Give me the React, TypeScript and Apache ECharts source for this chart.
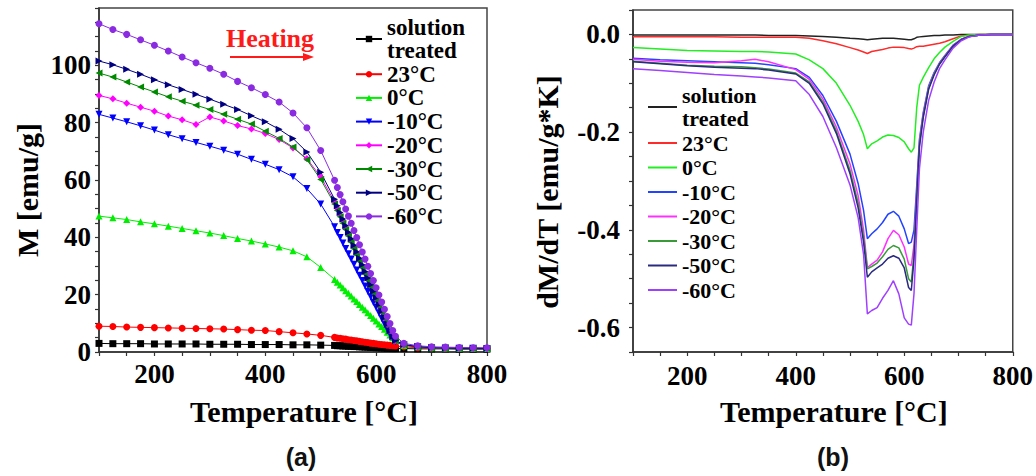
import React, { useEffect, useRef } from "react";
import * as echarts from "echarts";

// ---------- Panel (a): magnetisation vs temperature ----------
const tempsA = [
  100, 125, 150, 175, 200, 225, 250, 275, 300, 325, 350, 375, 400, 425, 450, 475, 500,
  525, 530, 535, 540, 545, 550, 555, 560, 565, 570, 575, 580, 585, 590, 595, 600, 605, 610, 615, 620, 625, 630, 635,
  650, 675, 700, 725, 750, 775, 800,
];
const mSolution = [
  3.0, 2.9, 2.9, 2.9, 2.8, 2.8, 2.8, 2.8, 2.7, 2.7, 2.7, 2.6, 2.6, 2.6, 2.5, 2.5, 2.4,
  2.3, 2.2, 2.2, 2.1, 2.1, 2.0, 2.0, 1.9, 1.9, 1.8, 1.8, 1.7, 1.7, 1.6, 1.6, 1.5, 1.5, 1.4, 1.4, 1.3, 1.3, 1.2, 1.2,
  1.2, 1.1, 1.1, 1.1, 1.0, 1.0, 1.0,
];
const m23 = [
  9.0, 8.9, 8.7, 8.6, 8.5, 8.4, 8.3, 8.2, 8.1, 8.0, 7.8, 7.6, 7.5, 7.1, 6.7, 6.3, 5.8,
  5.1, 4.9, 4.8, 4.6, 4.5, 4.3, 4.2, 4.0, 3.9, 3.7, 3.6, 3.4, 3.3, 3.1, 3.0, 2.9, 2.7, 2.6, 2.5, 2.4, 2.3, 2.2, 2.1,
  1.8, 1.5, 1.4, 1.3, 1.3, 1.2, 1.2,
];
const m0 = [
  47.4, 46.8, 46.2, 45.4, 44.7, 43.9, 43.1, 42.3, 41.5, 40.6, 39.6, 38.7, 37.7, 36.6, 35.3, 33.2, 29.5,
  25.3, 24.3, 23.4, 22.4, 21.4, 20.5, 19.5, 18.5, 17.6, 16.6, 15.6, 14.7, 13.7, 12.7, 11.8, 10.8, 9.8, 8.9, 7.9, 6.9, 5.9, 5.0, 4.2,
  2.3, 1.8, 1.5, 1.4, 1.3, 1.3, 1.2,
];
const m10 = [
  82.9, 81.6, 80.3, 78.9, 77.4, 75.8, 74.4, 73.1, 71.8, 70.4, 69.0, 67.2, 65.5, 63.6, 61.1, 57.0, 51.6,
  43.7, 41.7, 39.9, 38.0, 36.1, 34.3, 32.4, 30.6, 28.6, 26.8, 24.9, 23.0, 21.1, 19.3, 17.3, 15.5, 13.6, 11.7, 9.8, 7.9, 6.1, 4.6, 3.6,
  2.4, 1.8, 1.5, 1.4, 1.3, 1.3, 1.2,
];
const m20 = [
  89.5, 88.3, 86.8, 85.4, 84.0, 82.3, 81.0, 79.4, 82.0, 80.6, 79.0, 77.8, 76.2, 74.1, 71.2, 67.5, 61.1,
  52.4, 50.1, 47.9, 45.6, 43.3, 41.1, 38.8, 36.6, 34.4, 32.1, 29.8, 27.5, 25.3, 23.0, 20.8, 18.5, 16.2, 14.0, 11.7, 9.5, 7.2, 5.2, 3.9,
  2.5, 1.8, 1.5, 1.4, 1.3, 1.3, 1.2,
];
const m30 = [
  97.3, 95.9, 94.2, 92.4, 90.7, 89.0, 87.5, 86.1, 84.6, 82.9, 81.2, 79.5, 77.0, 74.5, 71.5, 67.1, 60.2,
  51.6, 49.4, 47.2, 44.9, 42.7, 40.5, 38.3, 36.0, 33.8, 31.6, 29.4, 27.2, 25.0, 22.7, 20.5, 18.3, 16.1, 13.9, 11.6, 9.4, 7.2, 5.2, 3.9,
  2.5, 1.8, 1.5, 1.4, 1.3, 1.3, 1.2,
];
const m50 = [
  101.5, 100.2, 98.6, 96.9, 95.0, 93.2, 91.6, 89.9, 88.2, 86.4, 84.6, 82.4, 80.3, 77.7, 74.5, 69.8, 62.7,
  53.3, 51.0, 48.7, 46.4, 44.1, 41.8, 39.5, 37.2, 35.0, 32.7, 30.4, 28.1, 25.8, 23.5, 21.2, 18.9, 16.6, 14.3, 12.0, 9.7, 7.4, 5.3, 4.0,
  2.6, 1.9, 1.5, 1.4, 1.3, 1.3, 1.2,
];
const m60 = [
  114.5, 112.5, 110.8, 108.9, 107.0, 105.0, 102.9, 100.9, 99.0, 96.9, 94.4, 92.2, 89.8, 87.2, 83.4, 78.2, 70.3,
  59.9, 57.4, 54.9, 52.4, 49.9, 47.4, 44.9, 42.4, 39.9, 37.4, 34.9, 32.4, 29.9, 27.4, 24.9, 22.4, 19.9, 17.4, 14.9, 12.4, 9.9, 7.5, 5.5,
  3.0, 2.2, 1.8, 1.7, 1.6, 1.5, 1.5,
];

// ---------- Panel (b): dM/dT vs temperature ----------
const tempsB = [
  100, 150, 200, 250, 300, 325, 350, 400, 425, 450, 475, 500, 515, 525, 532, 540, 550, 560, 570,
  580, 590, 600, 608, 613, 618, 623, 628, 635, 645, 655, 665, 675, 690, 705, 720, 740, 760, 800,
];
const dSolution = [
  -0.001, -0.001, -0.001, -0.001, -0.001, -0.001, -0.002, -0.002, -0.003, -0.004, -0.006, -0.008, -0.009, -0.01, -0.011, -0.01, -0.009, -0.008, -0.008,
  -0.008, -0.009, -0.01, -0.011, -0.011, -0.009, -0.006, -0.005, -0.004, -0.003, -0.002, -0.002, -0.001, -0.001, 0, 0, 0, 0, 0,
];
const d23 = [
  -0.005, -0.005, -0.005, -0.005, -0.006, -0.006, -0.006, -0.006, -0.008, -0.013, -0.019, -0.027, -0.032, -0.036, -0.039, -0.035, -0.033, -0.031, -0.028,
  -0.026, -0.026, -0.027, -0.029, -0.03, -0.028, -0.025, -0.024, -0.024, -0.022, -0.02, -0.018, -0.015, -0.009, -0.003, -0.001, 0, 0, 0,
];
const d0 = [
  -0.027, -0.03, -0.033, -0.034, -0.035, -0.035, -0.036, -0.04, -0.052, -0.07, -0.1, -0.145, -0.178, -0.205, -0.234, -0.224, -0.218, -0.21, -0.206,
  -0.207, -0.211, -0.22, -0.234, -0.241, -0.232, -0.15, -0.104, -0.088, -0.068, -0.05, -0.037, -0.026, -0.014, -0.004, -0.001, 0, 0, 0,
];
const d10 = [
  -0.049, -0.052, -0.054, -0.056, -0.058, -0.059, -0.062, -0.07, -0.088, -0.125, -0.178, -0.245, -0.305, -0.36, -0.418, -0.408, -0.398, -0.385, -0.368,
  -0.362, -0.372, -0.398, -0.428, -0.425, -0.4, -0.31, -0.215, -0.16, -0.105, -0.078, -0.058, -0.043, -0.022, -0.01, -0.004, -0.001, 0, 0,
];
const d20 = [
  -0.051, -0.055, -0.057, -0.058, -0.054, -0.051, -0.056, -0.072, -0.092, -0.132, -0.19, -0.265, -0.33, -0.4, -0.477, -0.47, -0.462, -0.445, -0.418,
  -0.401, -0.41, -0.435, -0.47, -0.473, -0.43, -0.325, -0.22, -0.163, -0.108, -0.08, -0.059, -0.044, -0.023, -0.01, -0.004, -0.001, 0, 0,
];
const d30 = [
  -0.055, -0.059, -0.063, -0.065, -0.066, -0.068, -0.071, -0.079, -0.097, -0.138, -0.198, -0.278, -0.345, -0.415, -0.48, -0.475, -0.468, -0.455, -0.44,
  -0.432, -0.437, -0.46, -0.5, -0.507, -0.45, -0.335, -0.225, -0.167, -0.11, -0.081, -0.06, -0.045, -0.024, -0.011, -0.004, -0.001, 0, 0,
];
const d50 = [
  -0.056, -0.06, -0.064, -0.067, -0.069, -0.07, -0.073, -0.081, -0.1, -0.142, -0.203, -0.285, -0.355, -0.425, -0.497, -0.486, -0.478, -0.47, -0.458,
  -0.453, -0.458, -0.478, -0.518, -0.524, -0.46, -0.34, -0.23, -0.17, -0.112, -0.083, -0.061, -0.046, -0.024, -0.011, -0.004, -0.001, 0, 0,
];
const d60 = [
  -0.07, -0.074, -0.078, -0.082, -0.085, -0.087, -0.089, -0.095, -0.123, -0.168, -0.232, -0.308, -0.375, -0.45, -0.572, -0.565, -0.559, -0.54, -0.524,
  -0.504, -0.531, -0.58, -0.593, -0.595, -0.53, -0.4, -0.275, -0.2, -0.135, -0.098, -0.07, -0.052, -0.028, -0.013, -0.005, -0.001, 0, 0,
];

const seriesNames = ["solution\ntreated", "23°C", "0°C", "-10°C", "-20°C", "-30°C", "-50°C", "-60°C"];
const colorsA = ["#000000", "#ff0000", "#00ee00", "#0000ff", "#ff00ff", "#008a00", "#000080", "#8a2be2"];
const colorsB = ["#222222", "#ff2a2a", "#22ee22", "#2244ff", "#ff30ff", "#3a9a3a", "#2a2a80", "#a040ff"];
const symbolsA = ["rect", "circle", "triangle", "triangle", "diamond", "triangle", "triangle", "circle"];
const rotatesA = [0, 0, 0, 180, 0, 90, -90, 0];
const valuesA = [mSolution, m23, m0, m10, m20, m30, m50, m60];
const valuesB = [dSolution, d23, d0, d10, d20, d30, d50, d60];

const SERIF = "Liberation Serif";

function pairs(xs: number[], ys: number[]) {
  return xs.map((x, i) => [x, ys[i]]);
}

function xAxisCfg(gridIndex: number, labelMargin: number) {
  return {
    gridIndex,
    type: "value",
    min: 100,
    max: 800,
    interval: 50,
    name: "Temperature [°C]",
    nameLocation: "middle",
    nameGap: 44,
    nameTextStyle: { fontFamily: SERIF, fontSize: 30, fontWeight: "bold", color: "#000", padding: [0, 0, 0, 22] },
    axisLine: { show: true, onZero: false, lineStyle: { color: "#333", width: 1.5 } },
    axisTick: { show: true, inside: false, length: 4, lineStyle: { color: "#333", width: 1.2 } },
    axisLabel: {
      formatter: (v: number) => (v % 200 === 0 ? String(v) : ""),
      fontFamily: SERIF,
      fontSize: 27,
      fontWeight: "bold",
      color: "#000",
      margin: labelMargin,
    },
    splitLine: { show: false },
  };
}

export default function App() {
  const ref = useRef<HTMLDivElement>(null);

  useEffect(() => {
    const chart = echarts.init(ref.current!, undefined, { renderer: "svg" });

    chart.setOption({
      animation: false,
      backgroundColor: "#fff",
      textStyle: { fontFamily: SERIF },
      grid: [
        { left: 99, top: 8, width: 388, height: 344, show: true, borderColor: "#444", borderWidth: 1.5, backgroundColor: "transparent" },
        { left: 633, top: 10, width: 384, height: 342, show: true, borderColor: "#444", borderWidth: 1.5, backgroundColor: "transparent" },
      ],
      xAxis: [xAxisCfg(0, 8), xAxisCfg(1, 10)],
      yAxis: [
        {
          gridIndex: 0,
          type: "value",
          min: 0,
          max: 120,
          interval: 5,
          name: "M [emu/g]",
          nameLocation: "middle",
          nameGap: 57,
          nameTextStyle: { fontFamily: SERIF, fontSize: 30, fontWeight: "bold", color: "#000", padding: [0, 20, 0, 0] },
          axisLine: { show: true, lineStyle: { color: "#333", width: 1.5 } },
          axisTick: { show: true, inside: false, length: 4, lineStyle: { color: "#333", width: 1.2 } },
          axisLabel: {
            formatter: (v: number) => (v % 20 === 0 && v <= 100 ? String(v) : ""),
            fontFamily: SERIF,
            fontSize: 27,
            fontWeight: "bold",
            color: "#000",
            margin: 8,
          },
          splitLine: { show: false },
        },
        {
          gridIndex: 1,
          type: "value",
          min: -0.65,
          max: 0.05,
          interval: 0.05,
          name: "dM/dT [emu/g*K]",
          nameLocation: "middle",
          nameGap: 71,
          nameTextStyle: { fontFamily: SERIF, fontSize: 30, fontWeight: "bold", color: "#000", padding: [0, 22, 0, 0] },
          axisLine: { show: true, onZero: false, lineStyle: { color: "#333", width: 1.5 } },
          axisTick: { show: true, inside: false, length: 4, lineStyle: { color: "#333", width: 1.2 } },
          axisLabel: {
            formatter: (v: number) => {
              const r = Math.round(v * 100);
              if (r % 20 !== 0 || r < -60 || r > 0) return "";
              return (r / 100).toFixed(1);
            },
            fontFamily: SERIF,
            fontSize: 27,
            fontWeight: "bold",
            color: "#000",
            margin: 13,
          },
          splitLine: { show: false },
        },
      ],
      legend: [
        {
          orient: "vertical",
          left: 355,
          top: 16,
          padding: 0,
          itemWidth: 26,
          itemHeight: 8,
          itemGap: 0.7,
          selectedMode: false,
          data: seriesNames,
          textStyle: { fontFamily: SERIF, fontSize: 23, fontWeight: "bold", color: "#000", lineHeight: 23 },
        },
        {
          orient: "vertical",
          left: 648,
          top: 84,
          padding: 0,
          itemWidth: 29,
          itemHeight: 2,
          itemGap: 1.5,
          selectedMode: false,
          data: seriesNames.map((name, i) => ({ name, icon: "rect", itemStyle: { color: colorsB[i] } })),
          textStyle: { fontFamily: SERIF, fontSize: 22, fontWeight: "bold", color: "#000", lineHeight: 23 },
        },
      ],
      series: [
        ...seriesNames.map((name, i) => ({
          name,
          type: "line",
          xAxisIndex: 0,
          yAxisIndex: 0,
          data: pairs(tempsA, valuesA[i]),
          symbol: symbolsA[i],
          symbolRotate: rotatesA[i],
          symbolSize: 7,
          showAllSymbol: true,
          lineStyle: { color: colorsA[i], width: 1 },
          itemStyle: { color: colorsA[i] },
          silent: true,
          emphasis: { disabled: true },
        })),
        ...seriesNames.map((name, i) => ({
          name,
          type: "line",
          xAxisIndex: 1,
          yAxisIndex: 1,
          data: pairs(tempsB, valuesB[i]),
          symbol: "none",
          lineStyle: { color: colorsB[i], width: 1.5 },
          itemStyle: { color: colorsB[i] },
          silent: true,
          emphasis: { disabled: true },
        })),
      ],
      graphic: [
        {
          type: "text",
          x: 270,
          y: 38,
          style: { text: "Heating", fill: "#ff1a1a", font: "bold 26px 'Liberation Serif'", align: "center", verticalAlign: "middle", textAlign: "center", textVerticalAlign: "middle" },
        },
        { type: "line", shape: { x1: 230, y1: 57, x2: 306, y2: 57 }, style: { stroke: "#ff1a1a", lineWidth: 2.2 } },
        { type: "polygon", shape: { points: [[303, 53], [314, 57], [303, 61]] }, style: { fill: "#ff1a1a" } },
        {
          type: "text",
          x: 301,
          y: 457,
          style: { text: "(a)", fill: "#111", font: "bold 25px 'Liberation Sans'", align: "center", verticalAlign: "middle", textAlign: "center", textVerticalAlign: "middle" },
        },
        {
          type: "text",
          x: 833,
          y: 457,
          style: { text: "(b)", fill: "#111", font: "bold 25px 'Liberation Sans'", align: "center", verticalAlign: "middle", textAlign: "center", textVerticalAlign: "middle" },
        },
      ],
    });

    return () => {
      chart.dispose();
    };
  }, []);

  return <div ref={ref} style={{ position: "absolute", left: 0, top: 0, width: 1036, height: 476 }} />;
}
